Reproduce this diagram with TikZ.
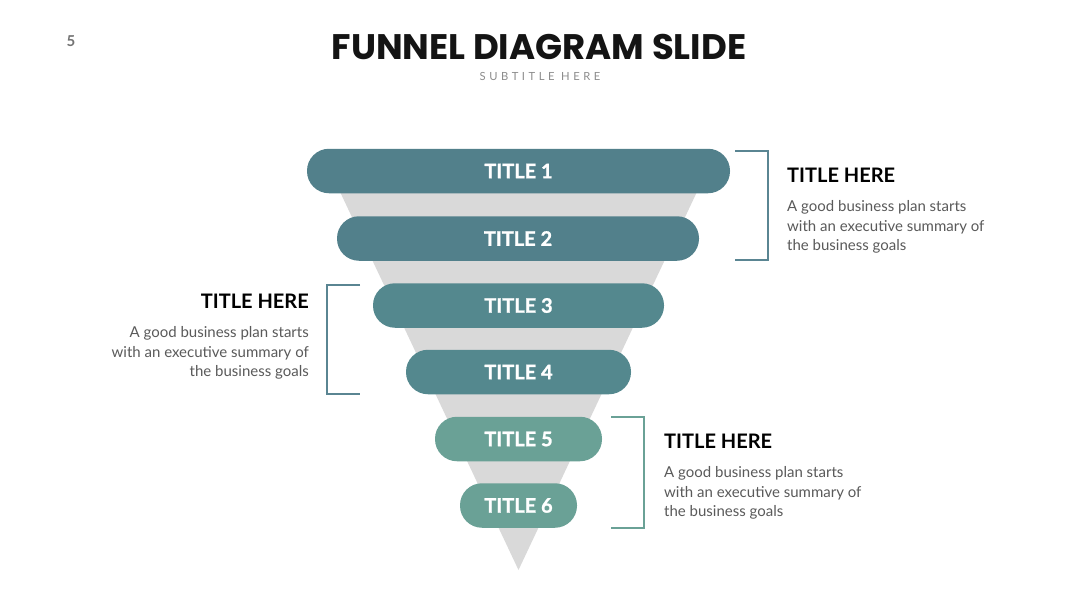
\documentclass[tikz,border=0pt]{standalone}
\usepackage{fontspec}
\setmainfont{Lato}
\newfontfamily\headfont{Poppins}
\newfontfamily\pillfont{Lato}[BoldFeatures={FakeBold=1.2}]
\newfontfamily\spacedfont{Lato}[LetterSpace=32]
\definecolor{pillA}{RGB}{82,128,139}
\definecolor{pillB}{RGB}{84,136,142}
\definecolor{pillC}{RGB}{106,161,150}
\definecolor{brA}{RGB}{90,133,146}
\definecolor{brC}{RGB}{106,161,150}
\definecolor{funnelgray}{RGB}{217,217,217}
\definecolor{bodygray}{RGB}{90,90,90}
\begin{document}
\begin{tikzpicture}[x=1pt,y=-1pt,
  pill/.style={rounded corners=22pt, minimum height=44.5pt, inner sep=0pt,
    text=white, font=\pillfont\fontsize{20}{22}\selectfont\bfseries},
  bracket/.style={line width=1.4pt},
  headtxt/.style={font=\fontsize{20}{22}\selectfont\bfseries, text=black, inner sep=0pt},
  bodytxt/.style={font=\fontsize{15}{19.6}\selectfont, text=bodygray, inner sep=0pt}]
\useasboundingbox (0,0) rectangle (1080,608);
\fill[white] (0,0) rectangle (1080,608);
% page number and titles
\node[font=\fontsize{15}{16}\selectfont\bfseries, text=black!55] (pg) at (71,41) {5};
\node[font=\headfont\fontsize{35.5}{38}\selectfont\bfseries, text=black!92] (ttl) at (539,47) {FUNNEL DIAGRAM SLIDE};
\node[font=\spacedfont\fontsize{11.2}{12}\selectfont, text=black!45] (sub) at (540,76) {SUBTITLE HERE};
% funnel
\fill[funnelgray] (325,160) -- (712,160) -- (518.5,570) -- cycle;
% pills
\node[pill, fill=pillA, minimum width=423pt] (t1) at (518.5,171) {TITLE 1};
\node[pill, fill=pillA, minimum width=362pt] (t2) at (518,238.5) {TITLE 2};
\node[pill, fill=pillB, minimum width=291pt] (t3) at (518.5,305.5) {TITLE 3};
\node[pill, fill=pillB, minimum width=225pt] (t4) at (518.5,372) {TITLE 4};
\node[pill, fill=pillC, minimum width=167pt] (t5) at (518.5,439) {TITLE 5};
\node[pill, fill=pillC, minimum width=117pt] (t6) at (518.5,505.5) {TITLE 6};
% brackets
\coordinate (b1a) at (735,151); \coordinate (b1b) at (735,260);
\draw[bracket, brA] (b1a) -- (768,151) -- (768,260) -- (b1b);
\coordinate (b2a) at (360,285); \coordinate (b2b) at (360,394);
\draw[bracket, brA] (b2a) -- (327,285) -- (327,394) -- (b2b);
\coordinate (b3a) at (611,417); \coordinate (b3b) at (611,528);
\draw[bracket, brC] (b3a) -- (644,417) -- (644,528) -- (b3b);
% text blocks
\node[headtxt, anchor=west] (h1) at (787,175.5) {TITLE HERE};
\node[bodytxt, anchor=north west, align=left] (d1) at (787,200.5) {A good business plan starts\\with an executive summary of\\the business goals};
\node[headtxt, anchor=east] (h2) at (309,301.5) {TITLE HERE};
\node[bodytxt, anchor=north east, align=right] (d2) at (309,326.5) {A good business plan starts\\with an executive summary of\\the business goals};
\node[headtxt, anchor=west] (h3) at (664,441.5) {TITLE HERE};
\node[bodytxt, anchor=north west, align=left] (d3) at (664,466.5) {A good business plan starts\\with an executive summary of\\the business goals};
\end{tikzpicture}
\end{document}
